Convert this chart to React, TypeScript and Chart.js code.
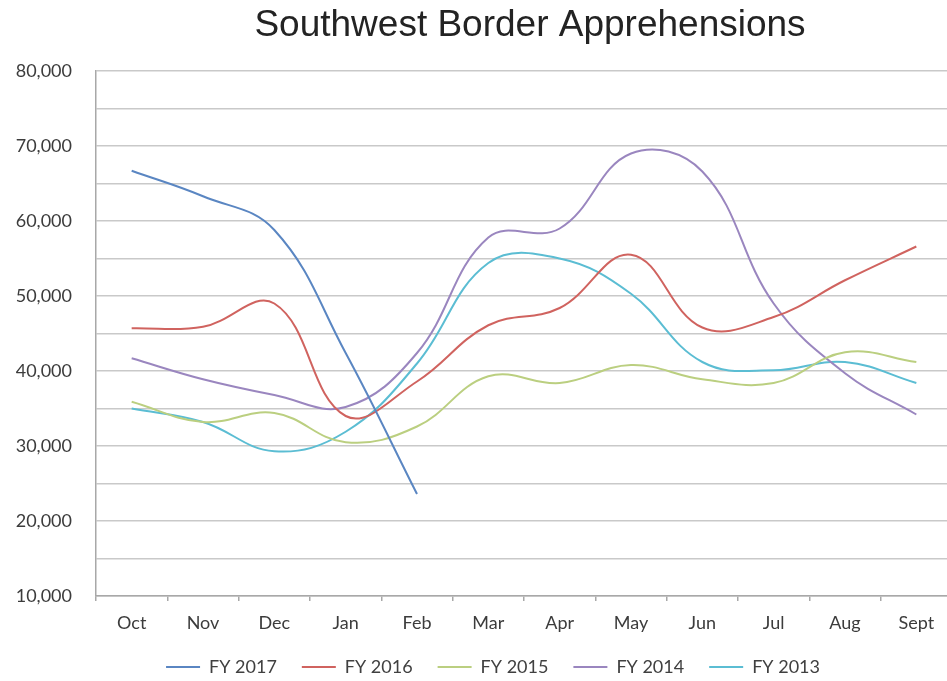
import { useEffect, useRef } from 'react';
import { Chart, registerables } from 'chart.js';

Chart.register(...registerables);

const months = ['Oct', 'Nov', 'Dec', 'Jan', 'Feb', 'Mar', 'Apr', 'May', 'Jun', 'Jul', 'Aug', 'Sept'];

const fy2017 = [66700, 63300, 58800, 42400, 23600, null, null, null, null, null, null, null];
const fy2016 = [45700, 45900, 49000, 34000, 38600, 46100, 48400, 55500, 45800, 47200, 52100, 56600];
const fy2015 = [35900, 33200, 34400, 30500, 32600, 39300, 38400, 40800, 38900, 38400, 42500, 41200];
const fy2014 = [41700, 38900, 36800, 35200, 42400, 57800, 59000, 69000, 66600, 49000, 39700, 34200];
const fy2013 = [35000, 33200, 29300, 31900, 41000, 54400, 55000, 50300, 41200, 40100, 41200, 38400];

const seriesNames = ['FY 2017', 'FY 2016', 'FY 2015', 'FY 2014', 'FY 2013'];
const seriesColors = ['#5a86c2', '#d0635f', '#bbcf80', '#9a86bf', '#5bbdd3'];

const yMin = 10000;
const yMax = 80000;
const yStep = 5000;

export default function App() {
  const ref = useRef<HTMLCanvasElement>(null);

  useEffect(() => {
    if (!ref.current) return;
    const values = [fy2017, fy2016, fy2015, fy2014, fy2013];
    const boxShift = {
      id: 'boxShift',
      beforeDraw(chart: any) {
        const lg = chart.legend;
        if (lg) {
          lg.left = 0;
          lg.right = 986;
        }
        const tb = chart.titleBlock;
        if (tb) {
          tb.left = 0;
          tb.right = 1060;
        }
      },
    };
    const chart = new Chart(ref.current, {
      type: 'line',
      data: {
        labels: months,
        datasets: values.map((v, i) => ({
          label: seriesNames[i],
          data: v,
          borderColor: seriesColors[i],
          backgroundColor: seriesColors[i],
          borderWidth: 2,
          pointRadius: 0,
          pointHoverRadius: 0,
          tension: 0.4,
          fill: false,
          spanGaps: false,
        })),
      },
      options: {
        animation: false,
        responsive: true,
        maintainAspectRatio: false,
        layout: { padding: { left: 0, right: 108, top: 0, bottom: 0 } },
        plugins: {
          title: {
            display: true,
            text: 'Southwest Border Apprehensions',
            color: '#232323',
            font: { family: 'Liberation Sans', size: 37, weight: 'normal' },
            padding: { top: 4, bottom: 22.6 },
          },
          legend: {
            position: 'bottom',
            labels: {
              color: '#404040',
              font: { family: 'Lato', size: 18 },
              boxWidth: 34,
              boxHeight: 2,
              padding: 25,
              generateLabels(chart: any) {
                const items = Chart.defaults.plugins.legend.labels.generateLabels(chart);
                return items.map((it: any) => ({ ...it, lineWidth: 0 }));
              },
            },
          },
          tooltip: { enabled: false },
        },
        scales: {
          x: {
            offset: true,
            grid: {
              offset: true,
              drawOnChartArea: false,
              drawTicks: true,
              tickLength: 5,
              color: '#a8a8a8',
              lineWidth: 1.5,
            },
            border: { display: true, color: '#a8a8a8', width: 1.5 },
            ticks: {
              color: '#3c3c3c',
              font: { family: 'Lato', size: 18 },
              padding: 11,
              maxRotation: 0,
              autoSkip: false,
            },
            afterFit(s: any) {
              s.height = 37;
            },
          },
          y: {
            min: yMin,
            max: yMax,
            grid: { color: '#c9c9c9', lineWidth: 1.5, drawTicks: false },
            border: { display: true, color: '#a8a8a8', width: 1.5 },
            ticks: {
              stepSize: yStep,
              padding: 24,
              color: '#3c3c3c',
              font: { family: 'Lato', size: 18 },
              callback: (v: any) => (Number(v) % 10000 === 0 ? Number(v).toLocaleString('en-US') : ''),
            },
            afterFit(s: any) {
              s.width = 96;
            },
          },
        },
      },
      plugins: [boxShift],
    });
    return () => chart.destroy();
  }, []);

  return (
    <div
      style={{
        position: 'absolute',
        left: 0,
        top: 0,
        width: 947,
        height: 681,
        overflow: 'hidden',
        background: '#ffffff',
      }}
    >
      <div style={{ position: 'relative', width: 1060, height: 686 }}>
        <canvas ref={ref} />
      </div>
    </div>
  );
}
